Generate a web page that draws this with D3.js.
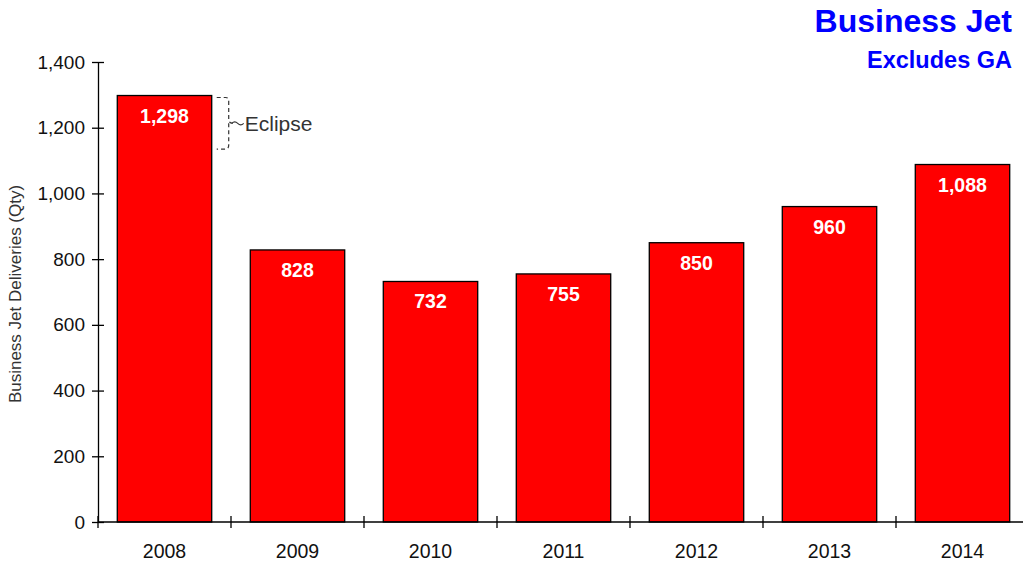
<!DOCTYPE html>
<html><head><meta charset="utf-8">
<script src="https://cdn.jsdelivr.net/npm/d3@7"></script>
<style>body{margin:0;background:#fff}svg{display:block}text{font-family:"Liberation Sans",Arial,sans-serif}</style>
</head><body><svg id="c" width="1023" height="564"></svg>
<script>
const categories = ["2008","2009","2010","2011","2012","2013","2014"];
const deliveries = [1298, 828, 732, 755, 850, 960, 1088];
const yTicks = [0,200,400,600,800,1000,1200,1400];
const eclipseRange = [1135, 1298];
const title = "Business Jet", subtitle = "Excludes GA", yLabel = "Business Jet Deliveries (Qty)";

const svg = d3.select("#c");
const x0 = 98, x1 = 1029, yTop = 62, yBot = 522;
const x = d3.scaleBand().domain(categories).range([x0, x1]).paddingInner(0.29).paddingOuter(0.145);
const y = d3.scaleLinear().domain([0,1400]).range([yBot, yTop]);
const fmt = d3.format(",");

// bars
svg.selectAll("rect.bar").data(categories).join("rect")
  .attr("x", d => x(d)).attr("width", x.bandwidth())
  .attr("y", (d,i) => y(deliveries[i])).attr("height", (d,i) => y(0) - y(deliveries[i]))
  .attr("fill", "#ff0000").attr("stroke", "#000").attr("stroke-width", 1.3);

svg.selectAll("text.val").data(categories).join("text")
  .attr("x", d => x(d) + x.bandwidth()/2).attr("y", (d,i) => y(deliveries[i]) + 27)
  .attr("text-anchor","middle").attr("fill","#fff").attr("font-weight","bold").attr("font-size",19.5)
  .text((d,i) => fmt(deliveries[i]));

// y axis
const yAxis = d3.axisLeft(y).tickValues(yTicks).tickFormat(fmt).tickSizeInner(6).tickSizeOuter(0).tickPadding(6);
const gy = svg.append("g").attr("transform",`translate(${x0},0)`).call(yAxis);
gy.select(".domain").attr("stroke","#000").attr("stroke-width",1.3);
gy.selectAll(".tick line").attr("x2",-6).attr("x1",6).attr("stroke","#000").attr("stroke-width",1.3);
gy.selectAll(".tick text").attr("font-size",19).attr("fill","#111").attr("x",-13).style("font-family","'Liberation Sans',Arial,sans-serif");

// x axis
const gx = svg.append("g").attr("transform",`translate(0,${yBot})`);
gx.append("line").attr("x1",x0).attr("x2",x1).attr("stroke","#000").attr("stroke-width",1.3);
const step = x.step();
const bounds = d3.range(categories.length+1).map(i => x0 + i*step);
gx.selectAll("line.t").data(bounds).join("line").attr("class","t")
  .attr("x1",d=>d).attr("x2",d=>d).attr("y1",-6).attr("y2",6).attr("stroke","#000").attr("stroke-width",1.3);
gx.selectAll("text").data(categories).join("text")
  .attr("x", d => x(d) + x.bandwidth()/2).attr("y", 36)
  .attr("text-anchor","middle").attr("font-size",19.5).attr("fill","#111").text(d=>d);

// y label
svg.append("text").attr("transform",`translate(21,${(yTop+yBot)/2 + 2}) rotate(-90)`)
  .attr("text-anchor","middle").attr("font-size",17).attr("fill","#333").text(yLabel);

// titles
svg.append("text").attr("x",1012).attr("y",32).attr("text-anchor","end").attr("font-weight","bold")
  .attr("font-size",32).attr("fill","#0000ff").text(title);
svg.append("text").attr("x",1012).attr("y",68).attr("text-anchor","end").attr("font-weight","bold")
  .attr("font-size",23.5).attr("fill","#0000ff").text(subtitle);

// Eclipse brace
const bx = x(categories[0]) + x.bandwidth() + 5;
const yt = y(eclipseRange[1]) + 2, yb = y(eclipseRange[0]), ym = (yt+yb)/2;
const bw = 12;
const p = `M${bx},${yt} L${bx+bw-3},${yt} Q${bx+bw},${yt} ${bx+bw},${yt+4} L${bx+bw},${ym-4} Q${bx+bw},${ym} ${bx+bw+4},${ym}`
  + ` M${bx+bw},${ym} Q${bx+bw},${ym} ${bx+bw},${ym+4} L${bx+bw},${yb-4} Q${bx+bw},${yb} ${bx+bw-3},${yb} L${bx},${yb}`;
svg.append("path").attr("d",p).attr("fill","none").attr("stroke","#333").attr("stroke-width",1.2).attr("stroke-dasharray","4,3");
svg.append("path").attr("d",`M${bx+bw+3},${ym} q3,-3 6,0 t6,0`).attr("fill","none").attr("stroke","#333").attr("stroke-width",1.1);
svg.append("text").attr("x",bx+bw+16).attr("y",ym+8).attr("font-size",21).attr("fill","#333").text("Eclipse");
</script></body></html>
